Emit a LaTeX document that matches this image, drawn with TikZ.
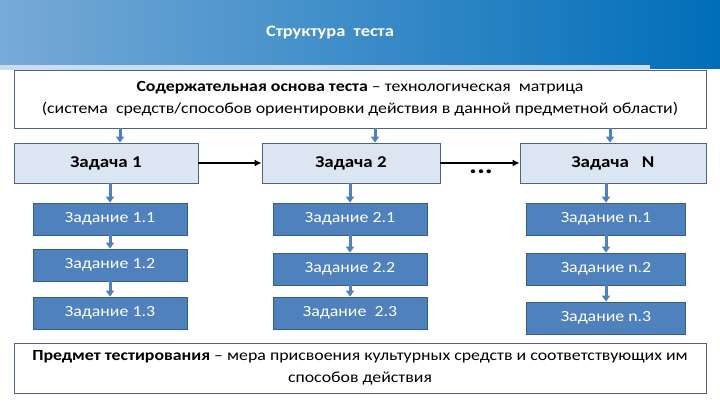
\documentclass[tikz,border=0pt]{standalone}
\usepackage{fontspec}
\setmainfont{Carlito}[FakeStretch=1.15]
\usetikzlibrary{positioning,arrows.meta}
\definecolor{hdrdark}{RGB}{0,110,185}
\definecolor{hdrlight}{RGB}{120,170,215}
\definecolor{taskfill}{RGB}{220,230,242}
\definecolor{taskline}{RGB}{80,100,130}
\definecolor{jobfill}{RGB}{79,129,189}
\definecolor{jobline}{RGB}{56,93,138}

\begin{document}
\begin{tikzpicture}[x=1pt, y=-1pt,
    task/.style={draw=taskline, thick, fill=taskfill, minimum height=40pt, font=\fontsize{16.5}{18}\selectfont\bfseries},
    job/.style={draw=jobline, thick, fill=jobfill, text=white, minimum height=32pt, font=\fontsize{15.5}{17}\selectfont},
    frame/.style={draw=taskline, thick, fill=white, align=center, font=\fontsize{15.5}{22}\selectfont},
    flow/.style={-{Triangle[width=8pt,length=6pt]}, line width=3pt, draw=jobfill},
    next/.style={-{Latex[length=7pt,width=7pt]}, line width=2pt}]
        \useasboundingbox (0,0) rectangle (720,405);
        \shade [left color=hdrlight, right color=hdrdark] (0,0) rectangle (720,68);
        \fill [hdrlight!40] (0,65) rectangle (650,70);
        \node [text=white, font=\fontsize{16}{18}\selectfont\bfseries] (title) at (330,33) {Структура\ \ теста};
        % top frame
        \node [frame, minimum width=692pt, minimum height=58pt] (basis) at (360,99) {\textbf{Содержательная основа теста} -- технологическая\ \ матрица\\(система\ \ средств/способов ориентировки действия в данной предметной области)};
        % tasks
        \node [task, minimum width=184pt] (t1) at (106,163) {Задача 1};
        \node [task, minimum width=178pt] (t2) at (351,163) {Задача 2};
        \node [task, minimum width=186pt] (tn) at (613,163) {Задача \ \ N};
        \node [font=\fontsize{26}{26}\selectfont\bfseries] (dots) at (481,172) {...};
        \draw [next] (t1) -- (t2);
        \draw [next] (t2) -- (tn);
        \foreach \t/\x in {t1/120, t2/375, tn/610}
            \draw [flow] (basis.south -| \x,0) -- (\t.north -| \x,0);
        % jobs
        \node [job, minimum width=154pt] (j11) at (110,219) {Задание 1.1};
        \node [job, minimum width=154pt] (j12) at (110,265) {Задание 1.2};
        \node [job, minimum width=154pt] (j13) at (110,313) {Задание 1.3};
        \node [job, minimum width=154pt] (j21) at (350,219) {Задание 2.1};
        \node [job, minimum width=154pt] (j22) at (350,269) {Задание 2.2};
        \node [job, minimum width=154pt] (j23) at (350,313) {Задание \ 2.3};
        \node [job, minimum width=159pt] (jn1) at (606,219) {Задание n.1};
        \node [job, minimum width=159pt] (jn2) at (606,269) {Задание n.2};
        \node [job, minimum width=159pt] (jn3) at (606,318) {Задание n.3};
        \draw [flow] (t1.south -| j11.north) -- (j11.north);
        \draw [flow] (t2.south -| j21.north) -- (j21.north);
        \draw [flow] (tn.south -| jn1.north) -- (jn1.north);
        \foreach \a/\b in {j11/j12, j12/j13, j21/j22, j22/j23, jn1/jn2, jn2/jn3}
            \draw [flow] (\a) -- (\b);
        % bottom frame
        \node [frame, minimum width=692pt, minimum height=50pt] (subject) at (360,368) {\textbf{Предмет тестирования} -- мера присвоения культурных средств и соответствующих им\\способов действия};
\end{tikzpicture}
\end{document}
